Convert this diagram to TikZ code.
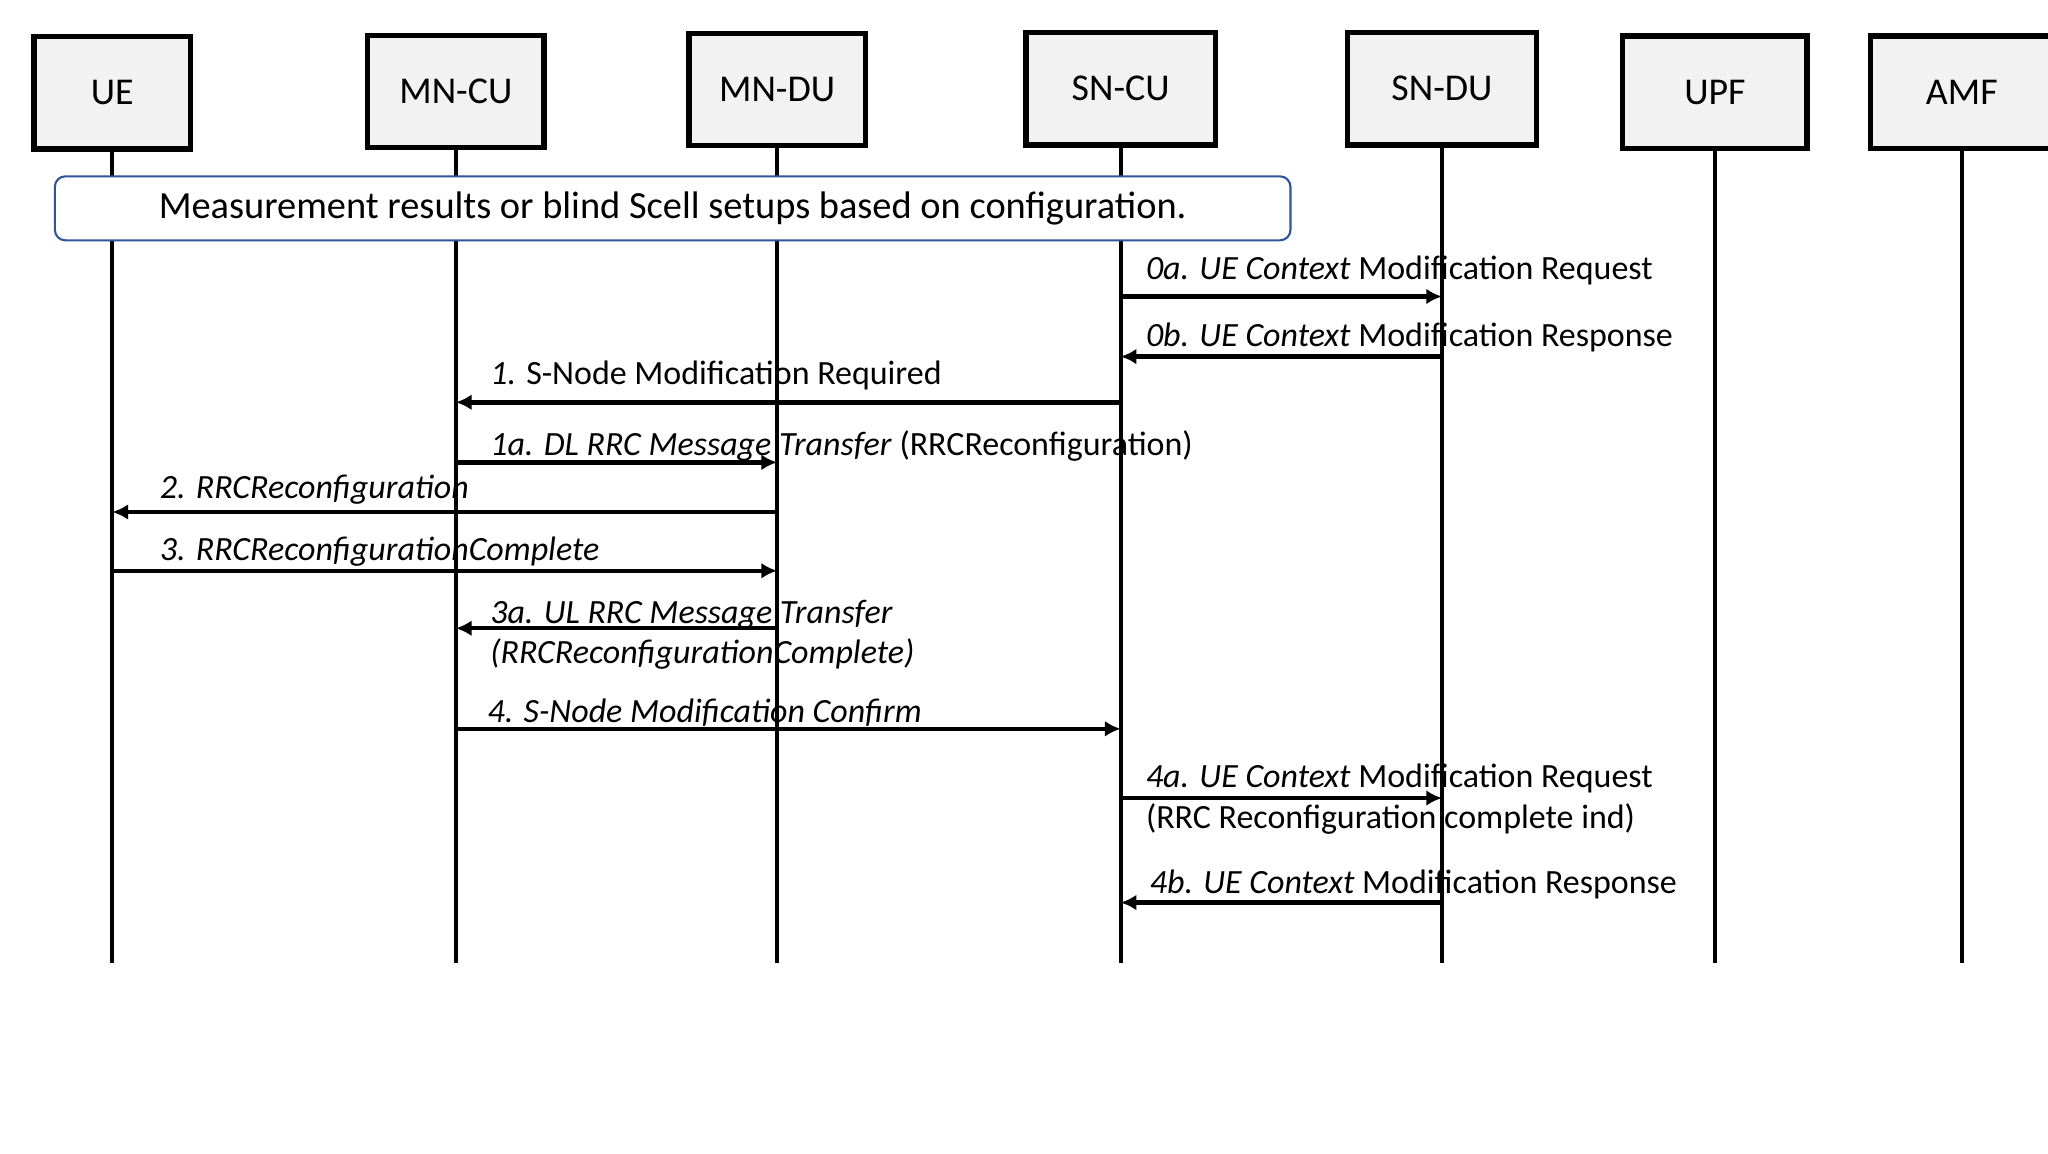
\documentclass[tikz,border=0pt]{standalone}
\usepackage{fontspec}
\setmainfont{Carlito}
\usetikzlibrary{arrows.meta}
\definecolor{boxgray}{RGB}{242,242,242}
\definecolor{noteblue}{RGB}{47,85,151}

\begin{document}
\begin{tikzpicture}[x=0.5pt,y=-0.5pt,
    entity/.style={rectangle,draw=black,line width=2pt,fill=boxgray,minimum height=43pt,font=\fontsize{14.5}{16}\selectfont},
    life/.style={line width=1.5pt},
    msg/.style={line width=1.7pt,-{Latex[length=6pt,width=6pt]}},
    lbl/.style={anchor=base west,inner sep=0pt,align=left,font=\fontsize{13}{15.5}\selectfont}]
        \useasboundingbox (0,0) rectangle (1568,883);

        % entities
        \node[entity,minimum width=60pt] (ue) at (86,71) {UE};
        \node[entity,minimum width=67.5pt] (mncu) at (349,70) {MN-CU};
        \node[entity,minimum width=67.5pt] (mndu) at (595,68.5) {MN-DU};
        \node[entity,minimum width=72.5pt] (sncu) at (858,68) {SN-CU};
        \node[entity,minimum width=72.5pt] (sndu) at (1104,68) {SN-DU};
        \node[entity,minimum width=70.5pt] (upf) at (1313,70.5) {UPF};
        \node[entity,minimum width=70pt] (amf) at (1502,70.5) {AMF};

        % lifelines
        \draw[life] (ue.south) -- (ue |- 0,737) coordinate (ue-end);
        \draw[life] (mncu.south) -- (mncu |- 0,737) coordinate (mncu-end);
        \draw[life] (mndu.south) -- (mndu |- 0,737) coordinate (mndu-end);
        \draw[life] (sncu.south) -- (sncu |- 0,737) coordinate (sncu-end);
        \draw[life] (sndu.south) -- (sndu |- 0,737) coordinate (sndu-end);
        \draw[life] (upf.south) -- (upf |- 0,737) coordinate (upf-end);
        \draw[life] (amf.south) -- (amf |- 0,737) coordinate (amf-end);

        \node[rectangle,rounded corners=4pt,draw=noteblue,line width=0.8pt,fill=white,minimum width=473pt,minimum height=24.5pt,font=\fontsize{14.7}{16}\selectfont] (note) at (515,159.5) {Measurement results or blind Scell setups based on configuration.};

        % messages
        \node[lbl] (m0a) at (877,214) {\textit{0a. UE Context} Modification Request};
        \draw[msg] (sncu |- 0,227) -- (sndu |- 0,227);

        \node[lbl] (m0b) at (877,265) {\textit{0b. UE Context} Modification Response};
        \draw[msg] (sndu |- 0,273) -- (sncu |- 0,273);

        \node[lbl] (m1) at (375,294) {\textit{1.} S-Node Modification Required};
        \draw[msg] (sncu |- 0,308) -- (mncu |- 0,308);

        \node[lbl] (m1a) at (375,349) {\textit{1a. DL RRC Message Transfer} (RRCReconfiguration)};
        \draw[msg] (mncu |- 0,354) -- (mndu |- 0,354);

        \node[lbl] (m2) at (122,382) {\textit{2. RRCReconfiguration}};
        \draw[msg] (mndu |- 0,392) -- (ue |- 0,392);

        \node[lbl] (m3) at (122,429) {\textit{3. RRCReconfigurationComplete}};
        \draw[msg] (ue |- 0,437) -- (mndu |- 0,437);

        % two-line labels sit on the baseline of the last line
        \node[lbl] (m3a) at (375,508) {\textit{3a. UL RRC Message Transfer}\\\textit{(RRCReconfigurationComplete)}};
        \draw[msg] (mndu |- 0,481) -- (mncu |- 0,481);

        \node[lbl] (m4) at (373,553) {\textit{4. S-Node Modification Confirm}};
        \draw[msg] (mncu |- 0,558) -- (sncu |- 0,558);

        \node[lbl] (m4a) at (877,634) {\textit{4a. UE Context} Modification Request\\(RRC Reconfiguration complete ind)};
        \draw[msg] (sncu |- 0,611) -- (sndu |- 0,611);

        \node[lbl] (m4b) at (880,684) {\textit{4b. UE Context} Modification Response};
        \draw[msg] (sndu |- 0,691) -- (sncu |- 0,691);
\end{tikzpicture}
\end{document}
